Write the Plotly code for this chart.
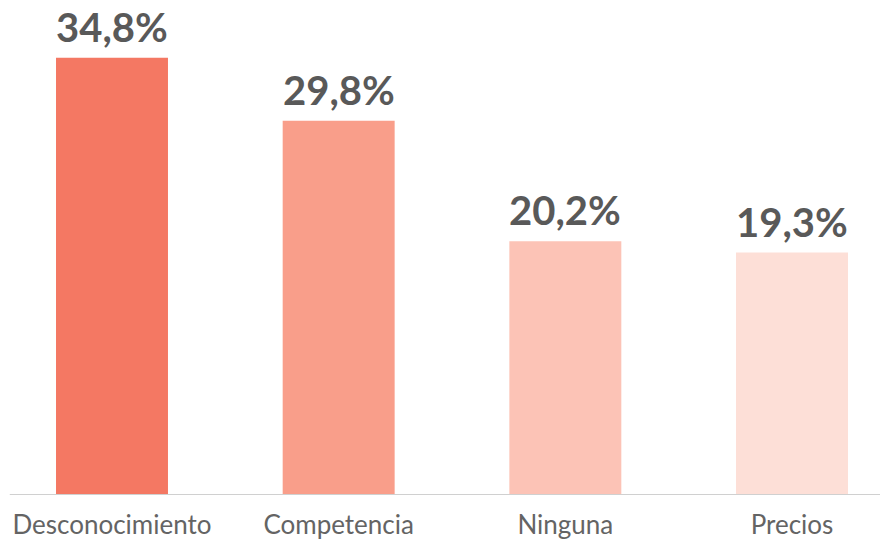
import plotly.graph_objs as go

# Chart data
categories = ["Desconocimiento", "Competencia", "Ninguna", "Precios"]
values = [34.8, 29.8, 20.2, 19.3]
labels = ["34,8%", "29,8%", "20,2%", "19,3%"]
bar_colors = ["#F47863", "#F99E8A", "#FCC3B6", "#FDDFD7"]

TEXT_GRAY = "#595959"


def build_figure():
    """Build the bar chart."""
    fig = go.Figure()
    fig.add_trace(go.Bar(
        x=categories,
        y=values,
        marker=dict(color=bar_colors, line=dict(width=0)),
        hoverinfo="skip",
    ))

    # value labels above the bars
    for cat, val, lab in zip(categories, values, labels):
        fig.add_annotation(
            x=cat, y=val, text="<b>" + lab + "</b>",
            showarrow=False, yanchor="bottom", yshift=5,
            font=dict(family="Lato, Roboto, sans-serif", size=40, color=TEXT_GRAY),
        )

    # baseline
    fig.add_shape(
        type="line", xref="paper", yref="y",
        x0=0.002, x1=1, y0=0, y1=0,
        line=dict(color="#D0D0D0", width=2),
    )

    # page body adds an 8px margin, so the figure is 880x534
    fig.update_layout(
        width=880, height=534,
        margin=dict(l=0, r=0, t=0, b=47),
        plot_bgcolor="white", paper_bgcolor="white",
        bargap=0.506,
        showlegend=False,
        xaxis=dict(
            range=[-0.4588, 3.4235],
            showgrid=False, zeroline=False, showline=False,
            tickfont=dict(family="Lato, sans-serif", size=26, color="#646464"),
            ticks="", ticklabelstandoff=12, fixedrange=True,
        ),
        yaxis=dict(
            range=[0, 38.77],
            visible=False, fixedrange=True,
        ),
    )
    return fig


fig = build_figure()
fig.write_html("out.html")
